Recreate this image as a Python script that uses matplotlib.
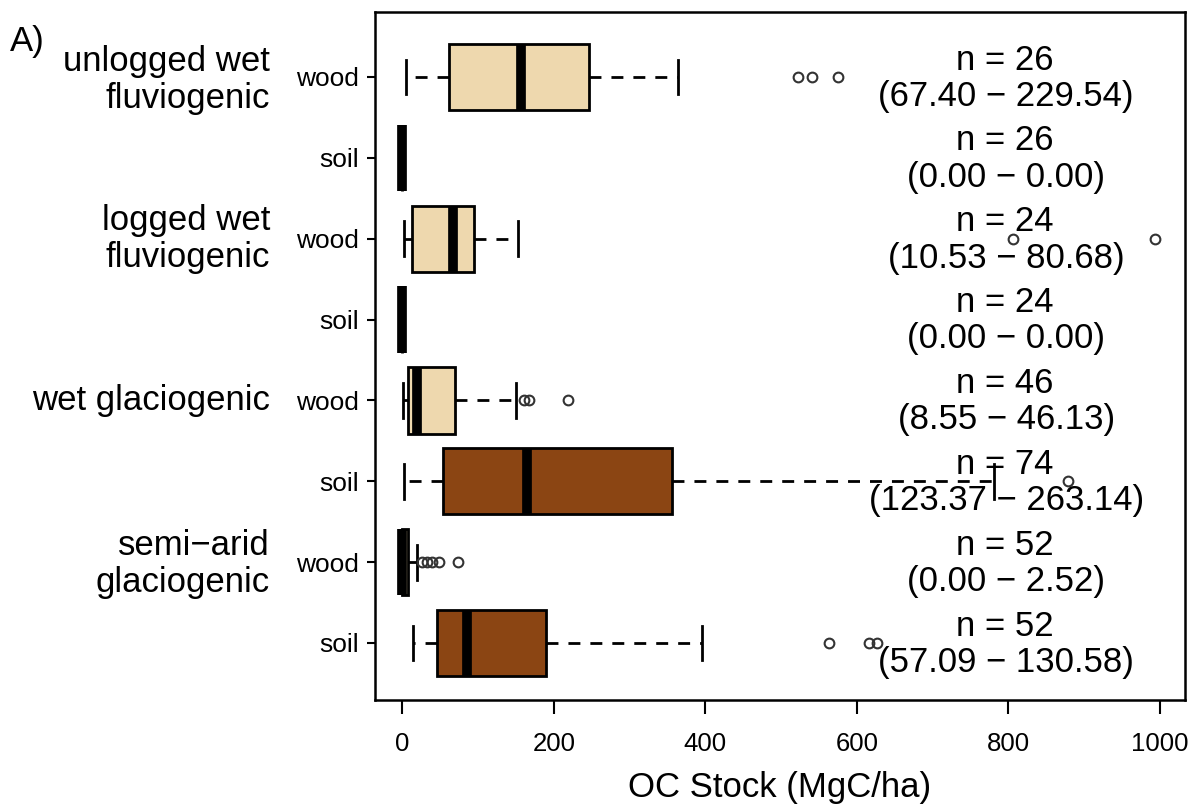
import matplotlib
matplotlib.use("Agg")
from matplotlib import pyplot as plt
from matplotlib import transforms

plt.rcParams['font.family'] = ['Liberation Sans', 'DejaVu Sans']

# rows from top to bottom
groupLabels = ["unlogged wet\nfluviogenic", "logged wet\nfluviogenic",
               "wet glaciogenic", "semi\u2212arid\nglaciogenic"]
rowTypes = ["wood", "soil", "wood", "soil", "wood", "soil", "wood", "soil"]

q1 = [62, 0, 12.8, 0, 7, 54, 0, 46]
med = [156, 0, 67, 0, 20, 165, 0, 86]
q3 = [247, 0, 94, 0, 69, 356, 8, 190]
whisLow = [5, 0, 2.6, 0, 1, 2.6, 0, 14.5]
whisHigh = [364, 0, 153, 0, 150, 781, 20, 396]
outliers = [[522, 541, 575], [], [806, 993], [], [161, 167, 219], [879],
            [26, 33, 39, 48, 73], [563, 616, 627]]

nValues = [26, 26, 24, 24, 46, 74, 52, 52]
rangeLow = [67.40, 0.00, 10.53, 0.00, 8.55, 123.37, 0.00, 57.09]
rangeHigh = [229.54, 0.00, 80.68, 0.00, 46.13, 263.14, 2.52, 130.58]

xTicks = [0, 200, 400, 600, 800, 1000]

fillColors = {"wood": "#EED8AE", "soil": "#8B4513"}

fig = plt.figure(figsize=(11.88, 8.10), dpi=100)
ax = fig.add_axes([0.3157, 0.1358, 0.6818, 0.8494])

stats = []
for i in range(len(rowTypes)):
    stats.append({"med": med[i], "q1": q1[i], "q3": q3[i],
                  "whislo": whisLow[i], "whishi": whisHigh[i],
                  "fliers": outliers[i]})

positions = list(range(1, len(rowTypes) + 1))
bp = ax.bxp(stats, positions=positions, widths=0.82, capwidths=0.43,
            orientation='horizontal', patch_artist=True,
            boxprops=dict(linewidth=2.0, edgecolor='black'),
            medianprops=dict(color='black', linewidth=7, solid_capstyle='butt'),
            whiskerprops=dict(color='black', linewidth=2.0,
                              linestyle=(0, (4.3, 3.6))),
            capprops=dict(color='black', linewidth=2.0),
            flierprops=dict(marker='o', markerfacecolor='none',
                            markeredgecolor='#333333', markersize=7,
                            markeredgewidth=1.5))
for box, t in zip(bp['boxes'], rowTypes):
    box.set_facecolor(fillColors[t])

ax.set_xlim(-36, 1033)
ax.set_ylim(8.705, 0.196)

ax.set_xticks(xTicks)
ax.set_xticklabels([str(v) for v in xTicks], fontsize=18.5)
ax.set_yticks(positions)
ax.set_yticklabels(rowTypes, fontsize=19)
ax.tick_params(axis='x', length=10, width=1.5, pad=13)
ax.tick_params(axis='y', length=5.8, width=1.5, pad=6)
for s in ax.spines.values():
    s.set_linewidth(1.8)

ax.set_xlabel("OC Stock (MgC/ha)", fontsize=25, labelpad=11)

# n and range annotations
for i in range(len(rowTypes)):
    y = positions[i]
    ax.text(795, y - 0.21, "n = %d" % nValues[i], ha='center', va='center',
            fontsize=25, zorder=5)
    ax.text(797, y + 0.24, "(%.2f \u2212 %.2f)" % (rangeLow[i], rangeHigh[i]),
            ha='center', va='center', fontsize=25, zorder=5)

# group labels left of the axis
trans = transforms.blended_transform_factory(fig.transFigure, ax.transData)
groupRows = [1.04, 3.0, 5.0, 7.02]
for lab, y in zip(groupLabels, groupRows):
    ax.text(270 / 1188, y, lab, transform=trans, ha='right', va='center',
            fontsize=25, linespacing=1.15)

fig.text(10 / 1188, 1 - 42 / 810, "A)", ha='left', va='center', fontsize=25)

fig.savefig("out.png", dpi=100)
